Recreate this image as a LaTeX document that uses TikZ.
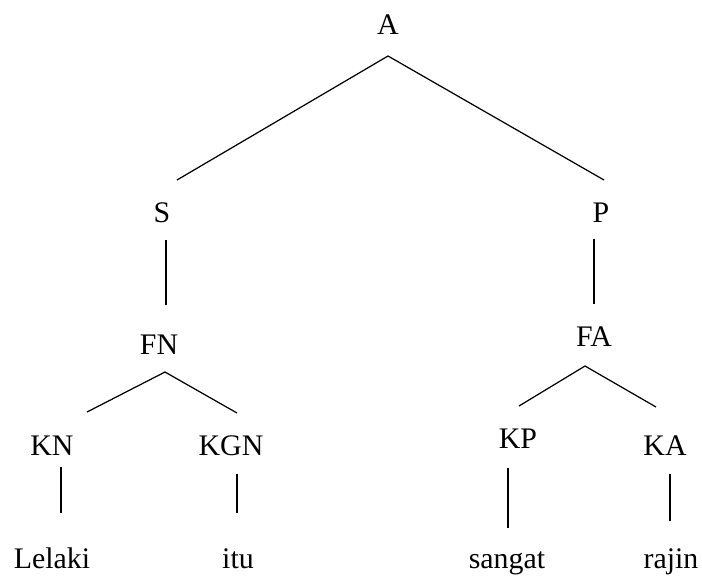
\documentclass[tikz,border=0pt]{standalone}
\usepackage{fontspec}
\setmainfont{Liberation Serif}

\begin{document}
\begin{tikzpicture}[x=0.02cm, y=-0.02cm, line width=0.7pt,
  lbl/.style={anchor=base, inner sep=0pt, font=\fontsize{17}{20}\selectfont}]
\useasboundingbox (0,0) rectangle (702,576);
\node[lbl] (A) at (388,34) {A};
\node[lbl] (S) at (162,222) {S};
\node[lbl] (P) at (601,222) {P};
\node[lbl] (FN) at (159,354) {FN};
\node[lbl] (FA) at (594,346) {FA};
\node[lbl] (KN) at (52,455) {KN};
\node[lbl] (KGN) at (231,455) {KGN};
\node[lbl] (KP) at (518,448) {KP};
\node[lbl] (KA) at (665,455) {KA};
\node[lbl] (Lelaki) at (52,568) {Lelaki};
\node[lbl] (itu) at (238,568) {itu};
\node[lbl] (sangat) at (507,568) {sangat};
\node[lbl] (rajin) at (671,568) {rajin};
\coordinate (A-b) at (388,56);
\coordinate (S-t) at (177,180);
\coordinate (P-t) at (604,180);
\coordinate (S-b) at (166,240);
\coordinate (FN-t) at (166,305);
\coordinate (P-b) at (594,239);
\coordinate (FA-t) at (594,304);
\coordinate (FN-b) at (165,372);
\coordinate (KN-t) at (87,412);
\coordinate (KGN-t) at (237,413);
\coordinate (FA-b) at (585,366);
\coordinate (KP-t) at (519,406);
\coordinate (KA-t) at (656,407);
\coordinate (KN-b) at (61,467);
\coordinate (Lelaki-t) at (61,513);
\coordinate (KGN-b) at (237,474);
\coordinate (itu-t) at (237,513);
\coordinate (KP-b) at (508,468);
\coordinate (sangat-t) at (508,528);
\coordinate (KA-b) at (670,474);
\coordinate (rajin-t) at (670,521);
\draw (S-t) -- (A-b) -- (P-t);
\draw (S-b) -- (FN-t);
\draw (P-b) -- (FA-t);
\draw (KN-t) -- (FN-b) -- (KGN-t);
\draw (KP-t) -- (FA-b) -- (KA-t);
\draw (KN-b) -- (Lelaki-t);
\draw (KGN-b) -- (itu-t);
\draw (KP-b) -- (sangat-t);
\draw (KA-b) -- (rajin-t);
\end{tikzpicture}
\end{document}
